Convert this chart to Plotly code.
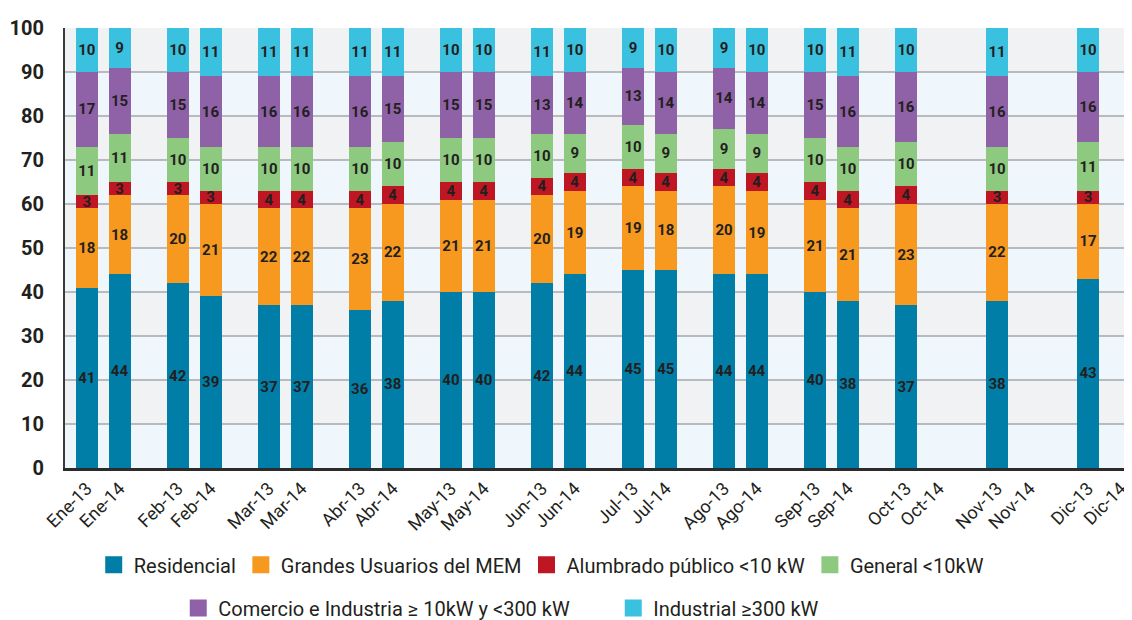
import plotly.graph_objects as go

# categorias (mes-año)
labels = ["Ene-13", "Ene-14", "Feb-13", "Feb-14", "Mar-13", "Mar-14",
          "Abr-13", "Abr-14", "May-13", "May-14", "Jun-13", "Jun-14",
          "Jul-13", "Jul-14", "Ago-13", "Ago-14", "Sep-13", "Sep-14",
          "Oct-13", "Oct-14", "Nov-13", "Nov-14", "Dic-13", "Dic-14"]

residencial = [41, 44, 42, 39, 37, 37, 36, 38, 40, 40, 42, 44,
               45, 45, 44, 44, 40, 38, 37, None, 38, None, 43, None]
grandes = [18, 18, 20, 21, 22, 22, 23, 22, 21, 21, 20, 19,
           19, 18, 20, 19, 21, 21, 23, None, 22, None, 17, None]
alumbrado = [3, 3, 3, 3, 4, 4, 4, 4, 4, 4, 4, 4,
             4, 4, 4, 4, 4, 4, 4, None, 3, None, 3, None]
general = [11, 11, 10, 10, 10, 10, 10, 10, 10, 10, 10, 9,
           10, 9, 9, 9, 10, 10, 10, None, 10, None, 11, None]
comercio = [17, 15, 15, 16, 16, 16, 16, 15, 15, 15, 13, 14,
            13, 14, 14, 14, 15, 16, 16, None, 16, None, 16, None]
industrial = [10, 9, 10, 11, 11, 11, 11, 11, 10, 10, 11, 10,
              9, 10, 9, 10, 10, 11, 10, None, 11, None, 10, None]

series = [
    ("Residencial", residencial, "#007ea7", "legend"),
    ("Grandes Usuarios del MEM", grandes, "#f7991f", "legend"),
    ("Alumbrado público <10 kW", alumbrado, "#be1622", "legend"),
    ("General <10kW", general, "#8dc97f", "legend"),
    ("Comercio e Industria ≥ 10kW y <300 kW", comercio, "#8f62a8", "legend2"),
    ("Industrial ≥300 kW", industrial, "#3ac1e0", "legend2"),
]

FONT = "Roboto"
DARK = "#231f20"

# pares 2013/2014 agrupados por mes
xpos = [i // 2 + (-0.18 if i % 2 == 0 else 0.18) for i in range(len(labels))]

fig = go.Figure()
for name, vals, color, leg in series:
    fig.add_trace(go.Bar(
        x=xpos, y=vals, name=name, width=0.24,
        marker=dict(color=color, line=dict(width=0)),
        text=[str(v) if v is not None else "" for v in vals],
        textposition="inside", insidetextanchor="middle",
        textangle=0, constraintext="none",
        insidetextfont=dict(family=FONT, size=15, color=DARK, weight="bold"),
        showlegend=False, hoverinfo="skip",
    ))

# entradas de leyenda con cuadro más grande (fuera del rango visible)
for name, vals, color, leg in series:
    fig.add_trace(go.Bar(
        x=[-5], y=[0], name=name, width=0.24,
        marker=dict(color=color, line=dict(width=7, color=color)),
        legend=leg, showlegend=True, hoverinfo="skip",
    ))

# franjas alternas de fondo
shapes = []
for lo in range(10, 100, 20):
    shapes.append(dict(type="rect", xref="paper", yref="y", x0=0, x1=1,
                       y0=lo, y1=lo + 10, fillcolor="#f1f2f4",
                       line=dict(width=0), layer="below"))

fig.update_layout(
    width=1132, height=620,
    barmode="stack",
    paper_bgcolor="white",
    plot_bgcolor="#eff7fd",
    margin=dict(l=57, r=0, t=20, b=152),
    font=dict(family=FONT, color=DARK),
    shapes=shapes,
    xaxis=dict(
        range=[-0.42, 11.39],
        tickvals=xpos, ticktext=labels, tickangle=-45,
        tickfont=dict(size=18, color=DARK),
        showgrid=False, zeroline=False,
        showline=True, linecolor="#2b2b2b", linewidth=3,
        ticks="", automargin=False,
    ),
    yaxis=dict(
        range=[0, 100], dtick=10, tick0=0,
        tickfont=dict(size=20, color=DARK, weight="bold"),
        showgrid=True, gridcolor="#b7babe", gridwidth=1.5,
        zeroline=False,
        showline=True, linecolor="#3a3a3a", linewidth=2,
        ticks="", ticklen=0, ticklabelstandoff=15, automargin=False,
    ),
    legend=dict(
        orientation="h", x=0.443, xanchor="center", y=-0.22, yanchor="middle",
        font=dict(size=20, color=DARK), bgcolor="rgba(0,0,0,0)",
        traceorder="normal",
    ),
    legend2=dict(
        orientation="h", x=0.51, xanchor="center", y=-0.318, yanchor="middle",
        font=dict(size=20, color=DARK), bgcolor="rgba(0,0,0,0)",
        traceorder="normal", entrywidth=390,
    ),
)

fig.write_html("out.html")
